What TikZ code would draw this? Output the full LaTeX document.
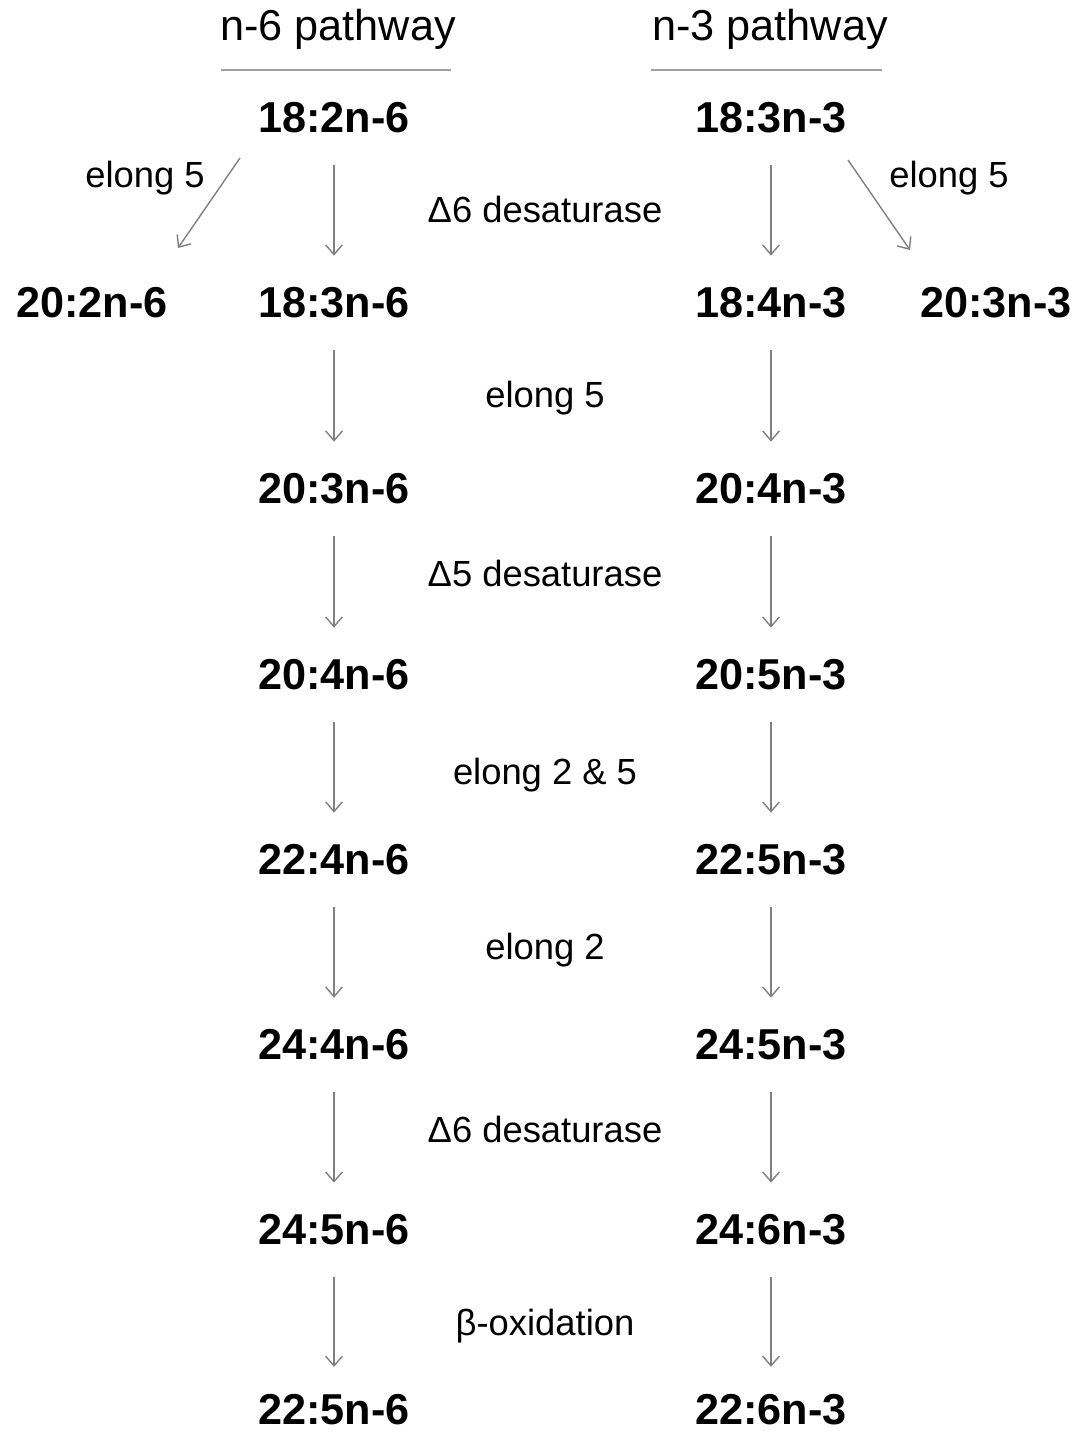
\documentclass[tikz,border=0pt]{standalone}
\usepackage{fontspec}
\setmainfont{Liberation Sans}
\usepackage{xcolor}
\usepackage{tikz}
\usetikzlibrary{arrows.meta,calc}
\definecolor{PWGray}  {HTML}{808080}
\definecolor{PWRule}  {HTML}{A0A0A0}
\definecolor{PWText}  {HTML}{000000}

\tikzset{
  fa/.style={font=\fontsize{24.6}{29}\selectfont\bfseries,text=PWText,
             inner sep=0pt,minimum height=1.88cm},
  falast/.style={fa,minimum height=0pt},
  enz/.style={font=\fontsize{20.7}{25}\selectfont,text=PWText,inner sep=0pt},
  head/.style={font=\fontsize{24.6}{29}\selectfont,text=PWText,inner sep=0pt},
  conv/.style={draw=PWGray,line width=0.8pt,
               -{Straight Barb[length=5.5pt,width=9.5pt]}}
}

\begin{document}
\begin{tikzpicture}[x=0.02cm,y=-0.02cm]
    \useasboundingbox (0,0) rectangle (1091,1435);

    % Headings
    \node[head] (h6) at (338,29){n-6 pathway};
    \node[head] (h3) at (770,29){n-3 pathway};
    \draw[PWRule,line width=1pt] ($(h6)+(-117,41)$) -- ($(h6)+(113,41)$);
    \draw[PWRule,line width=1pt] ($(h3)+(-119,41)$) -- ($(h3)+(112,41)$);

    % n-6 side
    \node[fa] (l0) at (92,303){20:2n-6};
    \node[fa] (l1) at (334,118){18:2n-6};
    \node[fa] (l2) at (334,303){18:3n-6};
    \node[fa] (l3) at (334,489){20:3n-6};
    \node[fa] (l4) at (334,675){20:4n-6};
    \node[fa] (l5) at (334,860){22:4n-6};
    \node[fa] (l6) at (334,1045){24:4n-6};
    \node[fa] (l7) at (334,1230){24:5n-6};
    \node[falast] (l8) at (334,1410){22:5n-6};

    % n-3 side
    \node[fa] (r0) at (996,303){20:3n-3};
    \node[fa] (r1) at (771,118){18:3n-3};
    \node[fa] (r2) at (771,303){18:4n-3};
    \node[fa] (r3) at (771,489){20:4n-3};
    \node[fa] (r4) at (771,675){20:5n-3};
    \node[fa] (r5) at (771,860){22:5n-3};
    \node[fa] (r6) at (771,1045){24:5n-3};
    \node[fa] (r7) at (771,1230){24:6n-3};
    \node[falast] (r8) at (771,1410){22:6n-3};

    % Enzymes
    \node[enz] (e1) at (545,210){Δ6 desaturase};
    \node[enz] (e2) at (545,398){elong 5};
    \node[enz] (e3) at (545,573){Δ5 desaturase};
    \node[enz] (e4) at (545,775){elong 2 \& 5};
    \node[enz] (e5) at (545,950){elong 2};
    \node[enz] (e6) at (545,1129){Δ6 desaturase};
    \node[enz] (e7) at (545,1326){β-oxidation};
    \node[enz] (el) at (145,178){elong 5};
    \node[enz] (er) at (949,178){elong 5};

    % Conversions
    \draw[conv] ($(l1)+(-94,40)$) -- ($(l0)+(86,-55)$);
    \draw[conv] ($(r1)+(77,42)$) -- ($(r0)+(-86,-53)$);
    \draw[conv] (l1.south) -- (l2.north);
    \draw[conv] (l2.south) -- (l3.north);
    \draw[conv] (l3.south) -- (l4.north);
    \draw[conv] (l4.south) -- (l5.north);
    \draw[conv] (l5.south) -- (l6.north);
    \draw[conv] (l6.south) -- (l7.north);
    \draw[conv,shorten >=0.55cm] (l7.south) -- (l8.north);
    \draw[conv] (r1.south) -- (r2.north);
    \draw[conv] (r2.south) -- (r3.north);
    \draw[conv] (r3.south) -- (r4.north);
    \draw[conv] (r4.south) -- (r5.north);
    \draw[conv] (r5.south) -- (r6.north);
    \draw[conv] (r6.south) -- (r7.north);
    \draw[conv,shorten >=0.55cm] (r7.south) -- (r8.north);
  \end{tikzpicture}
\end{document}
